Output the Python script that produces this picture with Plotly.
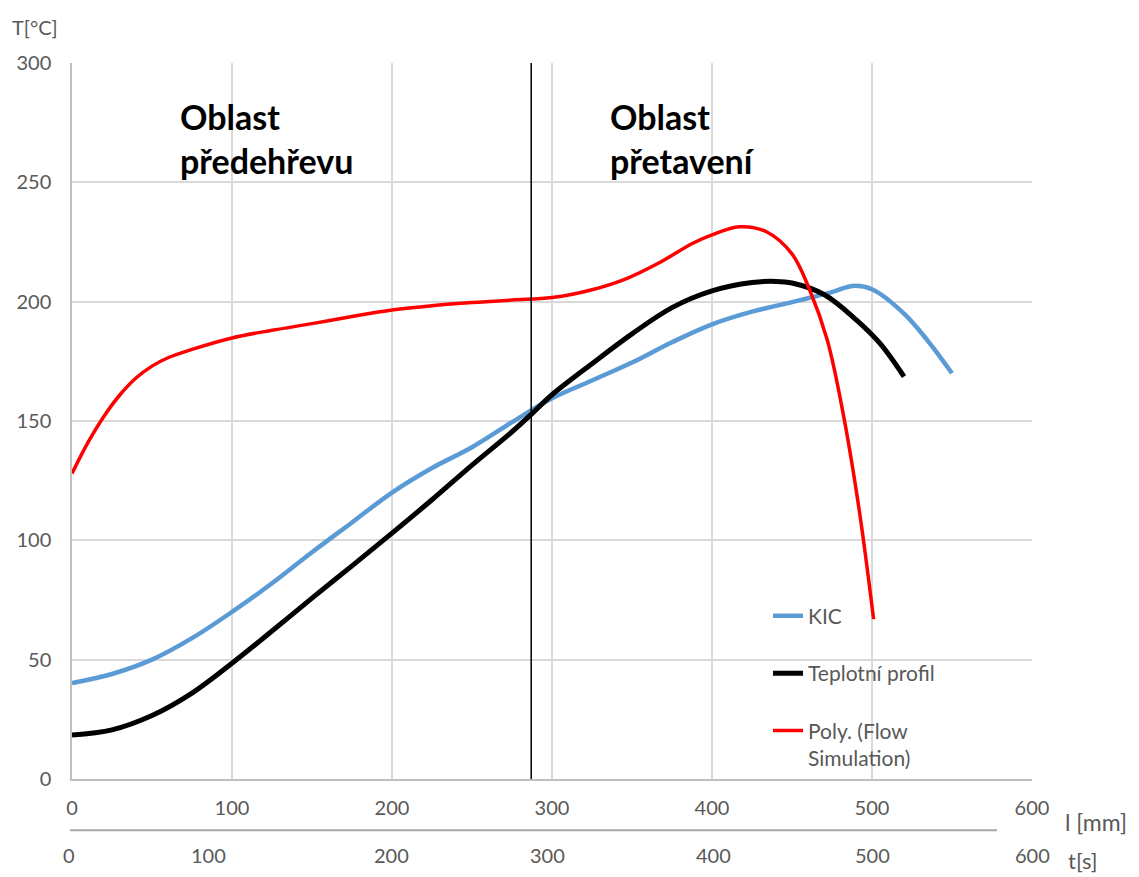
import plotly.graph_objects as go

# Temperature profiles along the reflow oven (x = position in mm)
kic_x = [0, 25, 50, 75, 100, 125, 150, 175, 200, 225, 250, 275, 300, 325, 350,
         375, 400, 425, 450, 475, 488, 500, 520, 535, 550]
kic_y = [40.2, 44, 50, 59, 70, 82, 95, 107.5, 120, 130.3, 139, 149.5, 159.5, 167,
         174.5, 183, 190.5, 195.8, 199.8, 204, 206.6, 205.2, 195, 183.5, 170]

profile_x = [0, 25, 50, 75, 100, 125, 150, 175, 200, 225, 250, 275, 287, 300, 325,
             350, 375, 400, 425, 440, 450, 470, 490, 505, 520]
profile_y = [18.4, 20.6, 26.6, 36, 48.5, 62, 75.8, 89.3, 103, 117, 131.5, 145.5,
             152.8, 161, 174, 186.5, 197.5, 204.5, 208, 208.5, 207.8, 203, 192.5,
             182.5, 168.6]

flow_x = [0, 10, 20, 30, 40, 50, 60, 75, 100, 125, 150, 175, 200, 225, 250, 275,
          300, 325, 347, 367, 388, 400, 417, 434, 450, 461, 472, 482, 492, 501]
flow_y = [128, 141, 152, 161, 168, 173, 176.5, 180, 184.8, 188, 190.8, 193.8, 196.5,
          198.3, 199.6, 200.7, 201.7, 205, 209.8, 216.3, 224.5, 228, 231.4, 229.3,
          220, 205, 184, 153, 112.7, 67]

# Boundary between the preheat and reflow zones (mm)
boundary_mm = 287

# Time axis labels and the lengths (mm) at which they sit
time_labels = ["0", "100", "200", "300", "400", "500", "600"]
time_label_mm = [-2, 85, 199.5, 297, 401, 500, 600]

X_MAX = 600
FONT = "Lato"
GREY = "#595959"

fig = go.Figure()
fig.add_trace(go.Scatter(x=kic_x, y=kic_y, mode="lines", name="KIC",
                         line=dict(color="#5B9BD5", width=4.5, shape="spline"),
                         legendgroup="a"))
fig.add_trace(go.Scatter(x=profile_x, y=profile_y, mode="lines", name="Teplotní profil",
                         line=dict(color="#000000", width=5, shape="spline"),
                         legendgroup="b"))
fig.add_trace(go.Scatter(x=flow_x, y=flow_y, mode="lines",
                         name="Poly. (Flow<br>Simulation)",
                         line=dict(color="#FF0000", width=3.5, shape="spline"),
                         legendgroup="c"))

fig.add_shape(type="line", x0=boundary_mm, x1=boundary_mm, y0=0, y1=300,
              xref="x", yref="y", line=dict(color="#000000", width=1.5))

# Separator between the length and time label rows
fig.add_shape(type="line", x0=-0.002, x1=0.9635, y0=-0.0715, y1=-0.0715,
              xref="paper", yref="paper", line=dict(color="#A6A6A6", width=2))

annotations = []
for lab, pos in zip(time_labels, time_label_mm):
    annotations.append(dict(x=pos / X_MAX, y=-0.1065, xref="paper", yref="paper",
                            text=lab, showarrow=False, xanchor="center",
                            yanchor="middle",
                            font=dict(family=FONT, size=20, color=GREY)))

annotations += [
    dict(x=-0.0646, y=1.050, xref="paper", yref="paper", text="T[°C]",
         showarrow=False, xanchor="left", yanchor="middle",
         font=dict(family=FONT, size=20, color=GREY)),
    dict(x=1.0325, y=-0.060, xref="paper", yref="paper", text="l [mm]",
         showarrow=False, xanchor="left", yanchor="middle",
         font=dict(family=FONT, size=23, color=GREY)),
    dict(x=1.035, y=-0.1145, xref="paper", yref="paper", text="t[s]",
         showarrow=False, xanchor="left", yanchor="middle",
         font=dict(family=FONT, size=22, color=GREY)),
    dict(x=66, y=0.957, xref="x", yref="paper", text="Oblast<br>předehřevu",
         showarrow=False, xanchor="left", yanchor="top", align="left",
         font=dict(family=FONT, size=34, color="#000000", weight="bold")),
    dict(x=335, y=0.957, xref="x", yref="paper", text="Oblast<br>přetavení",
         showarrow=False, xanchor="left", yanchor="top", align="left",
         font=dict(family=FONT, size=34, color="#000000", weight="bold")),
]

fig.update_layout(
    width=1139, height=877,
    margin=dict(l=72, r=107, t=63, b=98),
    plot_bgcolor="white", paper_bgcolor="white",
    font=dict(family=FONT, size=20, color=GREY),
    showlegend=True,
    legend=dict(x=0.725, y=0.256, xanchor="left", yanchor="top",
                bgcolor="rgba(0,0,0,0)", font=dict(family=FONT, size=21, color=GREY),
                tracegroupgap=27, valign="top", itemwidth=30),
    annotations=annotations,
    xaxis=dict(range=[0, X_MAX], dtick=100, showgrid=True, gridcolor="#D9D9D9",
               gridwidth=1.5, showline=True, linecolor="#BFBFBF", linewidth=1.5,
               zeroline=False, ticks="", ticklabelstandoff=10,
               tickfont=dict(family=FONT, size=20, color=GREY)),
    yaxis=dict(range=[0, 300], dtick=50, showgrid=True, gridcolor="#D9D9D9",
               gridwidth=1.5, showline=True, linecolor="#BFBFBF", linewidth=1.5,
               zeroline=False, ticks="", ticklabelstandoff=15,
               tickfont=dict(family=FONT, size=20, color=GREY)),
)

fig.write_html("out.html")
